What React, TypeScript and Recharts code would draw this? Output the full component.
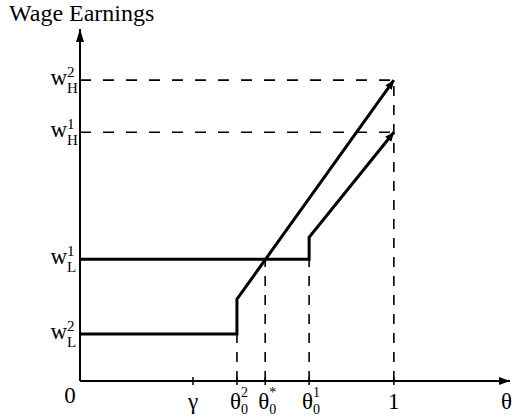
import React from "react";
import { ComposedChart, Line, ReferenceLine, XAxis, YAxis } from "recharts";

// theta axis: tick positions and their labels
const thetaTicks = [0, 0.36, 0.5, 0.59, 0.73, 1, 1.37];
const thetaLabels = ["0", "γ", "θ", "θ", "θ", "1", "θ"];
const thetaSub = ["", "", "0", "0", "0", "", ""];
const thetaSup = ["", "", "2", "*", "1", "", ""];

// wage axis: low / high wages of the two contracts
const wageTicks = [0.156, 0.405, 0.827, 1];
const wageSub = ["L", "L", "H", "H"];
const wageSup = ["2", "1", "1", "2"];

// earnings schedules
const contractOne = [
  { theta: 0, wage: 0.405 },
  { theta: 0.73, wage: 0.405 },
  { theta: 0.73, wage: 0.478 },
  { theta: 1, wage: 0.827 },
];
const contractTwo = [
  { theta: 0, wage: 0.156 },
  { theta: 0.5, wage: 0.156 },
  { theta: 0.5, wage: 0.272 },
  { theta: 1, wage: 1 },
];

// dashed guides
const verticalGuides = [
  { theta: 0.5, top: 0.156 },
  { theta: 0.59, top: 0.405 },
  { theta: 0.73, top: 0.405 },
  { theta: 1, top: 1 },
];
const horizontalGuides = [
  { wage: 1, end: 1 },
  { wage: 0.827, end: 1 },
];

const xAxisLine = [
  { theta: 0, wage: 0 },
  { theta: 1.37, wage: 0 },
];
const yAxisLine = [
  { theta: 0, wage: 0 },
  { theta: 0, wage: 1.17 },
];

const FONT = "'Liberation Serif', 'Times New Roman', serif";

const arrowDot = (len: number, half: number) => (props: any) => {
  const { cx, cy, index, points } = props;
  if (!points || index !== points.length - 1) return <g key={index} />;
  const prev = points[index - 1];
  const a = Math.atan2(cy - prev.y, cx - prev.x);
  const bx = cx - len * Math.cos(a);
  const by = cy - len * Math.sin(a);
  const nx = -Math.sin(a) * half;
  const ny = Math.cos(a) * half;
  return (
    <polygon
      key={index}
      points={`${cx},${cy} ${bx + nx},${by + ny} ${bx - nx},${by - ny}`}
      fill="#000"
    />
  );
};

function ThetaTick({ x, y, payload }: any) {
  const i = thetaTicks.indexOf(payload.value);
  if (i < 0) return null;
  if (i === 0) {
    return (
      <text x={x - 10} y={y + 22} textAnchor="middle" fontSize={23} fontFamily={FONT}>
        0
      </text>
    );
  }
  const last = i === thetaTicks.length - 1;
  const scripted = thetaSub[i] !== "";
  return (
    <g fontFamily={FONT}>
      {!last && <line x1={x} x2={x} y1={y - 4} y2={y + 4} stroke="#000" strokeWidth={1.5} />}
      {scripted ? (
        <>
          <text x={x + 4} y={y + 28} textAnchor="end" fontSize={23}>
            {thetaLabels[i]}
          </text>
          <text x={x + 4} y={y + 16} fontSize={14}>
            {thetaSup[i]}
          </text>
          <text x={x + 4} y={y + 33} fontSize={14}>
            {thetaSub[i]}
          </text>
        </>
      ) : (
        <text
          x={last ? x + 2 : x}
          y={y + 28}
          textAnchor={last ? "end" : "middle"}
          fontSize={23}
        >
          {thetaLabels[i]}
        </text>
      )}
    </g>
  );
}

function WageTick({ x, y, payload }: any) {
  const i = wageTicks.indexOf(payload.value);
  if (i < 0) return null;
  return (
    <g fontFamily={FONT}>
      <text x={x - 13} y={y + 5} textAnchor="end" fontSize={23}>
        w
      </text>
      <text x={x - 13} y={y - 3} fontSize={15}>
        {wageSup[i]}
      </text>
      <text x={x - 13} y={y + 13} fontSize={15}>
        {wageSub[i]}
      </text>
    </g>
  );
}

export default function App() {
  return (
    <div style={{ position: "absolute", left: 0, top: 0, width: 514, height: 418, background: "#fff" }}>
      <div
        style={{
          position: "absolute",
          left: 9,
          top: 1,
          fontFamily: FONT,
          fontSize: 24,
          lineHeight: "24px",
          whiteSpace: "nowrap",
        }}
      >
        Wage Earnings
      </div>
      <ComposedChart width={514} height={418} margin={{ top: 29, right: 4, bottom: 0, left: 0 }}>
        <XAxis
          type="number"
          dataKey="theta"
          domain={[0, 1.37]}
          ticks={thetaTicks}
          interval={0}
          height={37}
          axisLine={false}
          tickLine={false}
          tickSize={0}
          tickMargin={0}
          tick={<ThetaTick />}
        />
        <YAxis
          type="number"
          dataKey="wage"
          domain={[0, 1.17]}
          ticks={wageTicks}
          interval={0}
          width={80}
          axisLine={false}
          tickLine={false}
          tickSize={0}
          tickMargin={0}
          tick={<WageTick />}
        />
        {verticalGuides.map((g) => (
          <ReferenceLine
            key={`v${g.theta}`}
            segment={[
              { x: g.theta, y: 0 },
              { x: g.theta, y: g.top },
            ]}
            stroke="#000"
            strokeWidth={1.6}
            strokeDasharray="10 9"
          />
        ))}
        {horizontalGuides.map((g) => (
          <ReferenceLine
            key={`h${g.wage}`}
            segment={[
              { x: 0, y: g.wage },
              { x: g.end, y: g.wage },
            ]}
            stroke="#000"
            strokeWidth={1.6}
            strokeDasharray="11 12"
          />
        ))}
        <Line
          data={xAxisLine}
          dataKey="wage"
          type="linear"
          stroke="#000"
          strokeWidth={2}
          dot={arrowDot(11, 4)}
          activeDot={false}
          isAnimationActive={false}
        />
        <Line
          data={yAxisLine}
          dataKey="wage"
          type="linear"
          stroke="#000"
          strokeWidth={2}
          dot={arrowDot(13, 4)}
          activeDot={false}
          isAnimationActive={false}
        />
        <Line
          data={contractOne}
          dataKey="wage"
          type="linear"
          stroke="#000"
          strokeWidth={3}
          dot={arrowDot(9, 4)}
          activeDot={false}
          isAnimationActive={false}
        />
        <Line
          data={contractTwo}
          dataKey="wage"
          type="linear"
          stroke="#000"
          strokeWidth={3}
          dot={arrowDot(9, 4)}
          activeDot={false}
          isAnimationActive={false}
        />
      </ComposedChart>
    </div>
  );
}
